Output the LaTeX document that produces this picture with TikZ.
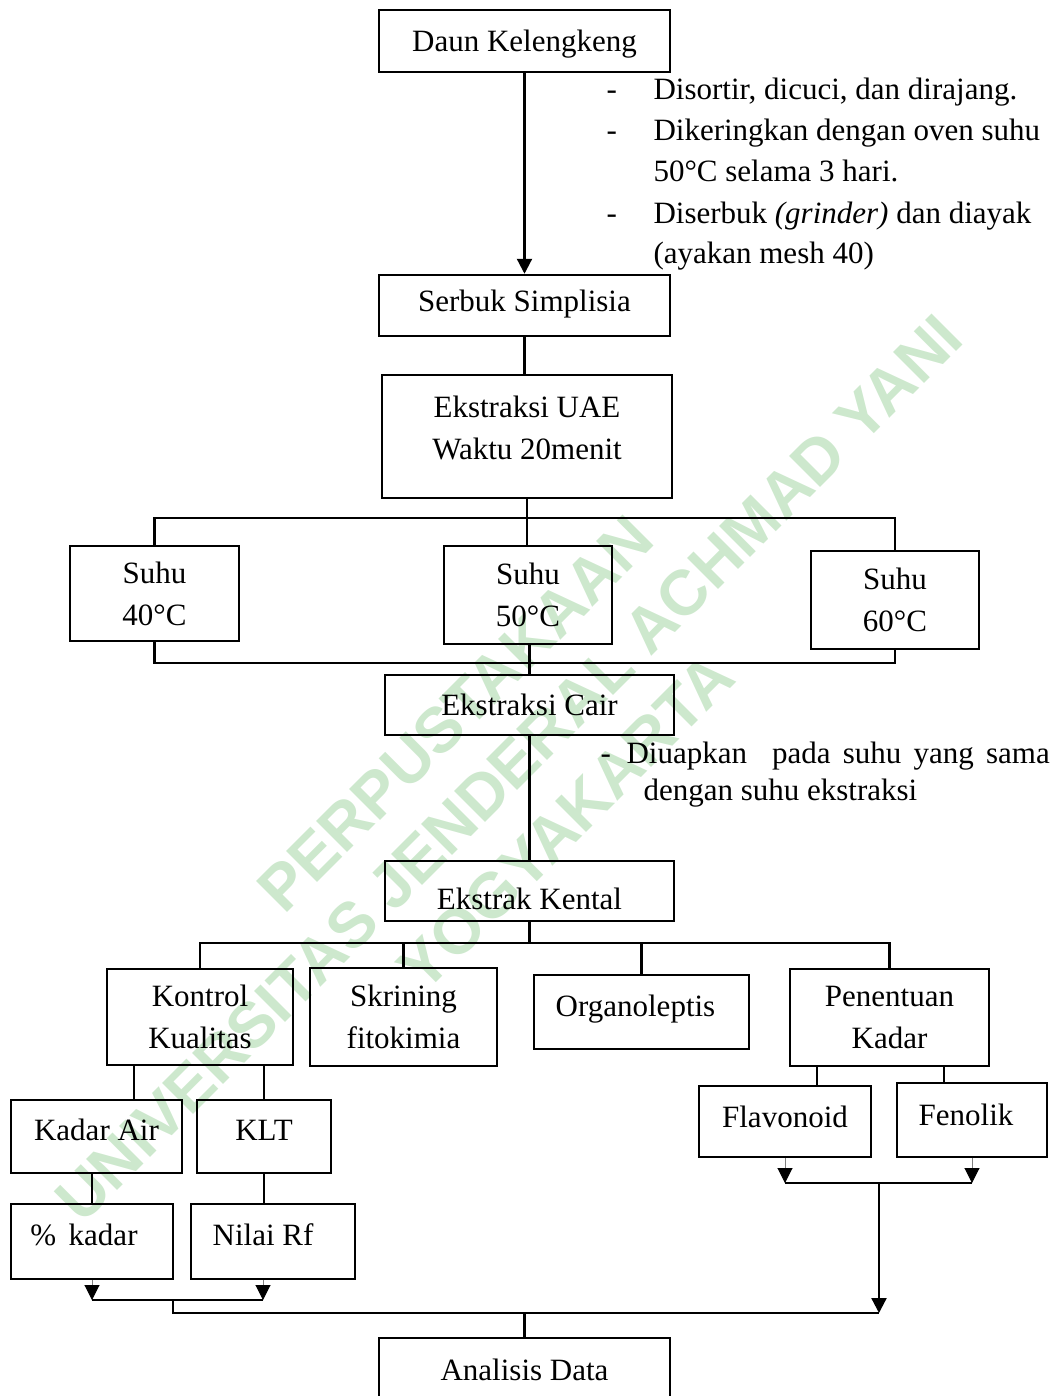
\documentclass[tikz,border=0pt]{standalone}
\usepackage{fontspec}
\setmainfont{Liberation Serif}
\newfontfamily\wmfont{Liberation Sans}
\usetikzlibrary{arrows.meta}
\definecolor{hijaumuda}{RGB}{205,232,205}
\tikzset{
  kotak/.style 2 args={draw, line width=1pt, minimum width=#1*0.4pt, minimum height=#2*0.4pt, inner sep=0pt},
  teks/.style={text height=#1, text depth=2pt},
  garis/.style={line width=0.9pt},
  panah/.style={garis, -{Triangle[length=6pt,width=6pt]}},
  panahabu/.style={draw=gray, line width=0.4pt, -{Triangle[length=6pt,width=6pt,color=black]}},
  catatan/.style={anchor=base west, inner sep=0pt},
  tandaair/.style={text=hijaumuda, font=\wmfont\bfseries\fontsize{25.5}{30}\selectfont, rotate=45, inner sep=0pt}
}
\begin{document}
\begin{tikzpicture}[x=0.4pt, y=-0.4pt, font=\fontsize{12.4}{16.8}\selectfont]
\useasboundingbox (0,0) rectangle (1056,1396);

% tanda air
\node[tandaair] (wm1) at (455,714) {PERPUSTAKAAN};
\node[tandaair] (wm2) at (509,768) {UNIVERSITAS JENDERAL ACHMAD YANI};
\node[tandaair] (wm3) at (566,822) {YOGYAKARTA};

% kotak-kotak
\node[kotak={291}{62}, teks=10.2pt] (daun) at (524.5,41) {Daun Kelengkeng};
\node[kotak={291}{61}, teks=7pt] (serbuk) at (524.5,305.5) {Serbuk Simplisia};
\node[kotak={290}{123}, align=center] (uae) at (527,436.5) {Ekstraksi UAE\\Waktu 20menit\rule[-7.2pt]{0pt}{0pt}};
\node[kotak={169}{95}, align=center] (suhu40) at (154.5,593.5) {Suhu\\40°C};
\node[kotak={168}{98}, align=center] (suhu50) at (528,595) {Suhu\\50°C};
\node[kotak={168}{98}, align=center] (suhu60) at (895,600) {Suhu\\60°C};
\node[kotak={289}{60}, teks=10.2pt] (cair) at (529.5,705) {Ekstraksi Cair};
\node[kotak={289}{60}, teks=17pt] (kental) at (529.5,891) {Ekstrak Kental};
\node[kotak={186}{96}, align=center] (kontrol) at (200,1017) {Kontrol\\Kualitas};
\node[kotak={187}{98}, align=center] (skrining) at (403.5,1017) {Skrining\\fitokimia};
\node[kotak={215}{74}, teks=5.4pt] (organo) at (641.5,1012) {Organoleptis\hspace*{4.8pt}};
\node[kotak={199}{97}, align=center] (penentuan) at (889.5,1017.5) {Penentuan\\Kadar};
\node[kotak={171}{73}, teks=5pt] (kadarair) at (96.5,1136.5) {Kadar Air};
\node[kotak={134}{73}, teks=5pt] (klt) at (264,1136.5) {KLT};
\node[kotak={162}{75}, teks=5.4pt] (persen) at (92,1241.5) {\%\hspace{5pt}kadar\hspace*{6.4pt}};
\node[kotak={164}{75}, teks=5.4pt] (nilairf) at (273,1241.5) {Nilai Rf\hspace*{8pt}};
\node[kotak={172}{71}, teks=6.6pt] (flavonoid) at (785,1121.5) {Flavonoid};
\node[kotak={150}{74}, teks=6.2pt] (fenolik) at (972,1120) {Fenolik\hspace*{4.8pt}};
\node[kotak={291}{64}, teks=10.2pt] (analisis) at (524.5,1370) {Analisis Data};

% keterangan
\node[catatan] (strip1) at (606,99) {-};
\node[catatan] (ket1) at (653,99) {Disortir, dicuci, dan dirajang.};
\node[catatan] (strip2) at (606,140) {-};
\node[catatan] (ket2) at (653,140) {Dikeringkan dengan oven suhu};
\node[catatan] (ket3) at (653,181) {50°C selama 3 hari.};
\node[catatan] (strip3) at (606,223) {-};
\node[catatan] (ket4) at (653,223) {Diserbuk \textit{(grinder)} dan diayak};
\node[catatan] (ket5) at (653,263) {(ayakan mesh 40)};
\node[catatan] (strip4) at (600,763) {-};
\node[catatan] (ket6) at (626,763) {Diuapkan\hspace{10pt}pada\hspace{4.9pt}suhu\hspace{4.9pt}yang\hspace{4.9pt}sama};
\node[catatan] (ket7) at (643,800) {dengan suhu ekstraksi};

% garis atas
\draw[panah] (daun.south) -- (serbuk.north);
\draw[garis] (serbuk.south) -- (serbuk.south |- uae.north);
\coordinate (simpul1) at (527,518);
\draw[garis] (uae.south) -- (uae.south |- suhu50.north);
\draw[garis] (suhu40.north) |- (simpul1) -| (suhu60.north);
\coordinate (simpul2) at (529,663);
\draw[garis] (suhu40.south) |- (simpul2) -| (suhu60.south);
\draw[garis] (cair.north |- suhu50.south) -- (cair.north);
\draw[garis] (cair.south) -- (kental.north);

% cabang ekstrak kental
\coordinate (simpul3) at (529.5,943);
\draw[garis] (kental.south) -- (simpul3);
\draw[garis] (kontrol.north) |- (simpul3) -| (penentuan.north);
\draw[garis] (skrining.north) -- (skrining.north |- simpul3);
\draw[garis] (organo.north) -- (organo.north |- simpul3);

% kontrol kualitas
\coordinate (kk1) at ([xshift=-26.4pt]kontrol.south);
\draw[garis] (kk1) -- (kk1 |- kadarair.north);
\draw[garis] (klt.north) -- (klt.north |- kontrol.south);
\draw[garis] (kadarair.south -| persen.north) -- (persen.north);
\draw[garis] (klt.south) -- (klt.south |- nilairf.north);

% penentuan kadar
\coordinate (pk1) at ([xshift=-29pt]penentuan.south);
\coordinate (pk2) at ([xshift=21.8pt]penentuan.south);
\draw[garis] (pk1) -- (pk1 |- flavonoid.north);
\draw[garis] (pk2) -- (pk2 |- fenolik.north);

% gabungan bawah
\coordinate (kiri1) at (92,1300);
\coordinate (kiri2) at (263,1300);
\coordinate (kiri3) at (173,1300);
\draw[panahabu] (persen.south) -- (kiri1);
\draw[panahabu] (nilairf.south -| kiri2) -- (kiri2);
\draw[garis] (kiri1) -- (kiri2);
\coordinate (kanan1) at (785,1183);
\coordinate (kanan2) at (972,1183);
\draw[panahabu] (flavonoid.south) -- (kanan1);
\draw[panahabu] (fenolik.south) -- (kanan2);
\draw[garis] (kanan1) -- (kanan2);
\coordinate (temu) at (879,1313);
\draw[garis] (kiri3) |- (temu);
\draw[panah] (temu |- kanan1) -- (temu);
\draw[garis] (analisis.north |- temu) -- (analisis.north);
\end{tikzpicture}
\end{document}
